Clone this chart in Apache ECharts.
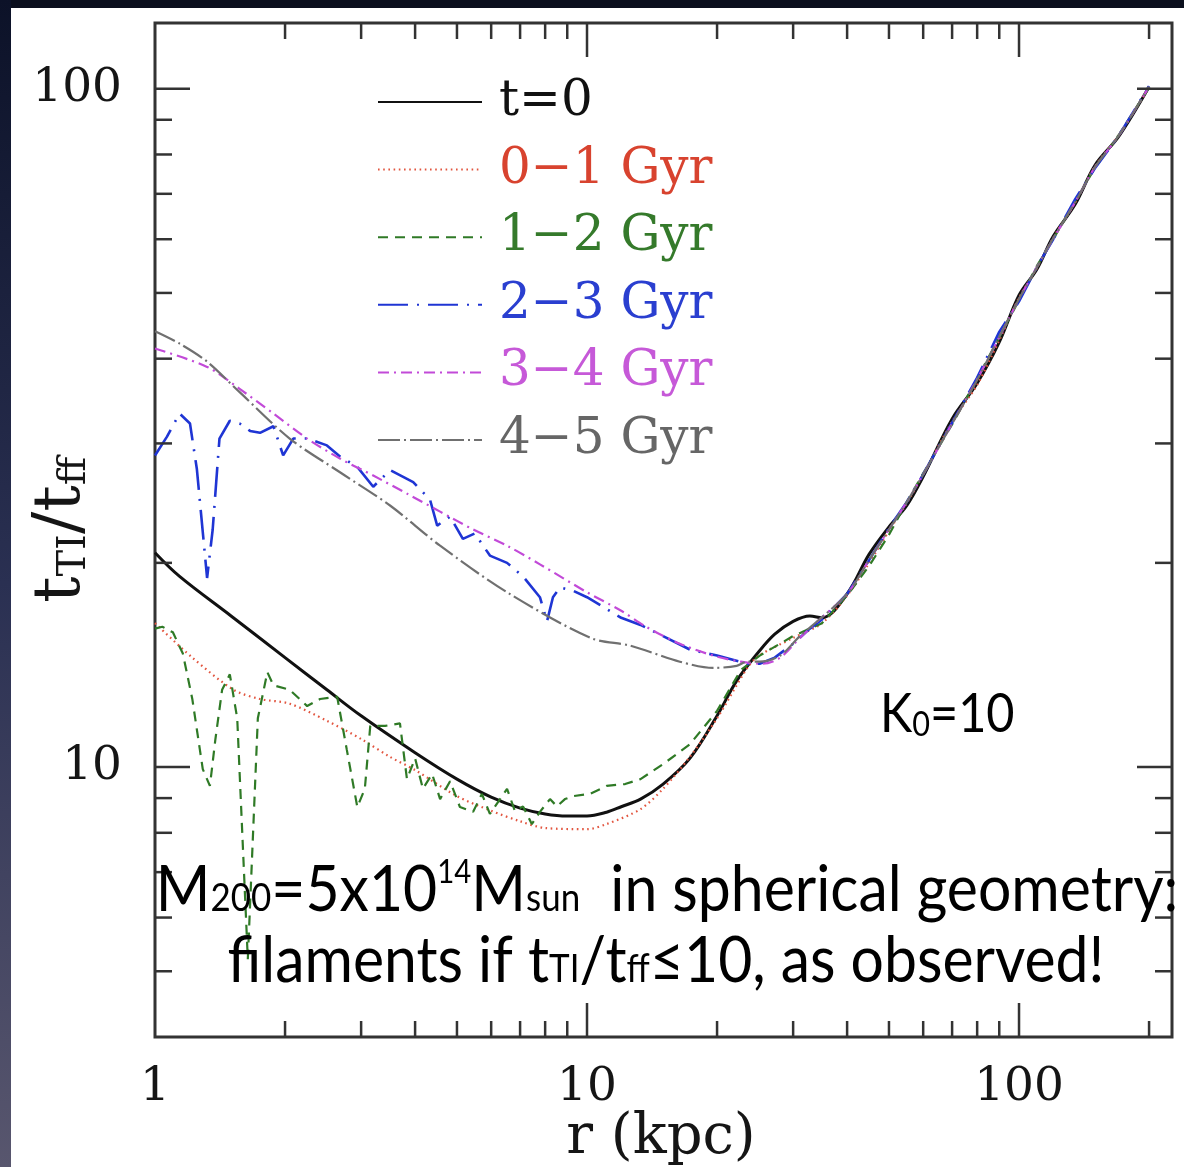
<!DOCTYPE html>
<html>
<head>
<meta charset="utf-8">
<script src="https://cdn.jsdelivr.net/npm/echarts@6/dist/echarts.min.js"></script>
<style>
  html, body { margin: 0; padding: 0; background: #fff; }
  #chart { width: 1184px; height: 1167px; }
</style>
</head>
<body>
<div id="chart"></div>
<script>
// Radius r (kpc) and t_TI / t_ff for each epoch.
const seriesNames = ['t=0', '0\u22121 Gyr', '1\u22122 Gyr', '2\u22123 Gyr', '3\u22124 Gyr', '4\u22125 Gyr'];

const profileT0 = [
  [1, 20.7], [1.14, 19.1], [1.5, 16.7], [2, 14.5], [2.5, 13.0], [3, 11.9], [4, 10.5], [5, 9.6],
  [6, 9.03], [7, 8.70], [8, 8.53], [9, 8.47], [10, 8.47], [11.1, 8.58], [12, 8.74], [13.3, 8.97],
  [15, 9.44], [17.3, 10.3], [20, 11.9], [22.2, 13.4], [25, 14.8], [27.2, 15.7], [30, 16.4],
  [32.8, 16.7], [35, 16.6], [40, 18.0], [45, 20.6], [50, 22.6], [55, 24.3], [60, 26.8], [70, 32.6],
  [80, 36.8], [90, 42.3], [100, 49.6], [110, 54.2], [120, 60.6], [135, 67.6], [150, 77.2],
  [170, 85.0], [200, 100.7]
];

const profile01 = [
  [1, 16.3], [1.22, 14.5], [1.52, 13.0], [1.75, 12.6], [2.05, 12.4], [2.5, 11.7], [3, 11.0],
  [3.5, 10.35], [4, 9.9], [5, 9.06], [6, 8.62], [7, 8.32], [8, 8.13], [10, 8.10], [11.1, 8.24],
  [13.3, 8.67], [15, 9.29], [17.3, 10.35], [20, 11.8], [23.5, 14.0], [25, 14.6], [30, 15.5],
  [35, 16.3], [40, 17.9], [45, 20.0], [50, 22.3], [55, 24.5], [60, 27.0], [70, 32.3], [80, 36.6],
  [90, 42.6], [100, 49.2], [110, 54.4], [120, 60.3], [135, 68.0], [150, 76.9], [170, 85.4], [200, 100.5]
];

const profile12 = [
  [1, 16.0], [1.04, 16.1], [1.10, 15.8], [1.16, 14.7], [1.22, 12.6], [1.29, 9.93], [1.34, 9.38],
  [1.38, 11.0], [1.43, 13.0], [1.49, 13.7], [1.55, 11.8], [1.64, 5.21], [1.73, 11.8], [1.82, 13.8],
  [1.88, 13.2], [2.05, 13.0], [2.25, 12.3], [2.41, 12.6], [2.64, 12.7], [2.78, 10.6], [2.94, 8.73],
  [3.06, 9.29], [3.15, 11.5], [3.41, 11.5], [3.69, 11.6], [3.83, 9.60], [4.0, 10.3], [4.17, 9.29],
  [4.38, 9.77], [4.57, 8.97], [4.82, 9.53], [5.08, 8.73], [5.45, 8.59], [5.71, 9.13], [5.96, 8.53],
  [6.29, 8.97], [6.53, 9.29], [6.81, 8.61], [7.11, 8.75], [7.45, 8.24], [7.78, 8.59], [8.21, 8.97],
  [8.52, 8.75], [8.89, 8.97], [9.28, 9.06], [10.16, 9.13], [11.1, 9.38], [12.25, 9.44], [13.3, 9.60],
  [15, 10.1], [17.3, 10.8], [20, 12.1], [22.7, 13.9], [25.1, 14.6], [30, 15.6], [35, 16.3],
  [40, 17.9], [45, 19.8], [50, 22.0], [55, 24.6], [60, 27.1], [70, 32.0], [80, 37.4], [90, 43.0],
  [100, 48.8], [110, 54.8], [120, 60.0], [135, 68.3], [150, 76.5], [170, 85.4], [200, 100.4]
];

const profile23 = [
  [1, 28.8], [1.066, 30.7], [1.14, 33.2], [1.205, 32.1], [1.25, 27.5], [1.32, 19.0], [1.36, 22.4],
  [1.41, 30.5], [1.49, 32.4], [1.57, 32.1], [1.66, 31.3], [1.75, 31.1], [1.88, 31.8], [1.98, 28.8],
  [2.09, 30.5], [2.25, 30.5], [2.5, 29.8], [2.68, 28.7], [2.94, 27.7], [3.2, 25.9], [3.5, 27.4],
  [3.96, 26.3], [4.33, 24.8], [4.5, 22.7], [4.82, 23.4], [5.16, 21.7], [5.5, 22.1], [5.96, 20.5],
  [6.53, 20.0], [7.11, 19.1], [7.78, 17.8], [8.08, 16.4], [8.34, 17.8], [8.66, 18.4], [9.28, 18.2],
  [10, 17.8], [11.1, 17.1], [12, 16.6], [13.3, 16.2], [15, 15.6], [17.3, 14.9], [20, 14.6],
  [23.5, 14.2], [25.1, 14.2], [27.2, 14.5], [30, 15.2], [32.8, 16.0], [35, 16.5], [40, 18.0],
  [45, 20.2], [50, 22.5], [55, 24.6], [60, 27.0], [70, 32.2], [80, 37.5], [90, 43.8], [100, 48.6],
  [110, 54.6], [120, 60.0], [135, 68.8], [150, 76.4], [170, 85.2], [200, 100.9]
];

const profile34 = [
  [1, 41.4], [1.32, 38.9], [1.57, 36.1], [1.88, 33.2], [2.25, 30.5], [2.68, 28.5], [3.2, 26.9],
  [3.83, 25.3], [4.57, 23.8], [5.45, 22.4], [6.53, 21.2], [7.78, 19.9], [10, 18.1], [12, 17.0],
  [13.7, 16.1], [16.4, 15.2], [19.6, 14.6], [22.7, 14.3], [25.5, 14.2], [28, 14.5], [31.1, 15.5],
  [34.5, 16.5], [40, 18.0], [45, 20.2], [50, 22.4], [55, 24.6], [60, 27.0], [70, 32.1], [80, 37.3],
  [90, 43.0], [100, 49.0], [110, 54.6], [120, 60.1], [135, 68.1], [150, 76.7], [170, 85.2], [200, 100.7]
];

const profile45 = [
  [1, 43.9], [1.14, 42.1], [1.32, 39.6], [1.57, 35.7], [2.05, 30.5], [2.68, 27.2], [3.5, 24.3],
  [4.57, 21.2], [6.53, 18.1], [10.2, 15.5], [12.6, 15.1], [16.4, 14.3], [19.6, 14.0], [22.2, 14.1],
  [23.5, 14.3], [25.1, 14.3], [28, 14.6], [31.1, 15.6], [34.5, 16.5], [40, 18.0], [45, 20.2],
  [50, 22.4], [55, 24.6], [60, 27.0], [70, 32.1], [80, 37.2], [90, 43.1], [100, 49.0], [110, 54.5],
  [120, 60.2], [135, 68.1], [150, 76.7], [170, 85.2], [200, 100.7]
];

// Axis tick values (major ticks are labelled)
const xMajorTicks = [10, 100];
const xMinorTicks = [2, 3, 4, 5, 6, 7, 8, 9, 20, 30, 40, 50, 60, 70, 80, 90, 200];
const yMajorTicks = [10, 100];
const yMinorTicks = [5, 6, 7, 8, 9, 20, 30, 40, 50, 60, 70, 80, 90];

const lineColors = ['#111111', '#e2553f', '#2f7a26', '#1f35d4', '#c24ad8', '#707070'];
const textColors = ['#111111', '#d8432f', '#357a2b', '#2a3fd0', '#c659d8', '#666666'];
const dashTypes = ['solid', [1.6, 3.6], [10, 7], [30, 9, 2, 9], [11, 5, 2, 5], [22, 4, 2, 4]];
const lineWidths = [3, 2.2, 2.2, 2.6, 2.2, 2.2];
const smoothing = [0.35, 0.3, 0, 0, 0.3, 0.3];
const profiles = [profileT0, profile01, profile12, profile23, profile34, profile45];

const chart = echarts.init(document.getElementById('chart'), null, { renderer: 'canvas' });

const decadeLabel = function (v) {
  const l = Math.log10(v);
  return Math.abs(l - Math.round(l)) < 1e-6 ? String(Math.round(v)) : '';
};

const tickStyle = { stroke: '#333', lineWidth: 2.5 };

function xTickRenderer(params, api) {
  const p = api.coord([api.value(0), api.value(1)]);
  const cs = params.coordSys;
  const len = api.value(2) ? 34 : 16;
  const bottom = cs.y + cs.height;
  return {
    type: 'group',
    children: [
      { type: 'line', shape: { x1: p[0], y1: bottom, x2: p[0], y2: bottom - len }, style: tickStyle },
      { type: 'line', shape: { x1: p[0], y1: cs.y, x2: p[0], y2: cs.y + len }, style: tickStyle }
    ]
  };
}

function yTickRenderer(params, api) {
  const p = api.coord([api.value(0), api.value(1)]);
  const cs = params.coordSys;
  const len = api.value(2) ? 35 : 17;
  const right = cs.x + cs.width;
  return {
    type: 'group',
    children: [
      { type: 'line', shape: { x1: cs.x, y1: p[1], x2: cs.x + len, y2: p[1] }, style: tickStyle },
      { type: 'line', shape: { x1: right, y1: p[1], x2: right - len, y2: p[1] }, style: tickStyle }
    ]
  };
}

const lineSeries = seriesNames.map(function (name, i) {
  return {
    name: name,
    type: 'line',
    data: profiles[i],
    symbol: 'none',
    smooth: smoothing[i],
    z: 3 + i,
    lineStyle: { color: lineColors[i], width: lineWidths[i], type: dashTypes[i] },
    itemStyle: { color: lineColors[i] }
  };
});

const xTickData = xMajorTicks.map(v => [v, 10, 1]).concat(xMinorTicks.map(v => [v, 10, 0]));
const yTickData = yMajorTicks.map(v => [2, v, 1]).concat(yMinorTicks.map(v => [2, v, 0]));

const sans = 'Lato';
const serif = 'DejaVu Serif';

const option = {
  animation: false,
  backgroundColor: '#ffffff',
  grid: {
    left: 155, right: 12, top: 23, bottom: 130,
    show: true, borderColor: '#333', borderWidth: 3, backgroundColor: 'transparent'
  },
  xAxis: {
    type: 'log', logBase: 10, min: 1, max: 226,
    axisLine: { show: false }, axisTick: { show: false }, splitLine: { show: false },
    axisLabel: {
      interval: 0, formatter: decadeLabel, margin: 27,
      fontFamily: serif, fontSize: 47, color: '#151515'
    }
  },
  yAxis: {
    type: 'log', logBase: 10, min: 4, max: 125,
    axisLine: { show: false }, axisTick: { show: false }, splitLine: { show: false },
    axisLabel: {
      interval: 0, formatter: decadeLabel, margin: 33,
      fontFamily: serif, fontSize: 47, color: '#151515'
    }
  },
  legend: {
    orient: 'vertical', left: 372, top: 72,
    itemWidth: 104, itemHeight: 50, itemGap: 17.6,
    selectedMode: false,
    itemStyle: { opacity: 0 },
    textStyle: { fontFamily: serif, fontSize: 50, padding: [0, 0, 0, 12] },
    data: seriesNames.map((n, i) => ({ name: n, textStyle: { color: textColors[i] } }))
  },
  series: lineSeries.concat([
    { type: 'custom', silent: true, data: xTickData, renderItem: xTickRenderer, z: 10 },
    { type: 'custom', silent: true, data: yTickData, renderItem: yTickRenderer, z: 10 }
  ]),
  graphic: [
    {
      type: 'rect', z: 50, silent: true,
      shape: { x: 0, y: 0, width: 1184, height: 8 },
      style: { fill: '#0b0f1e' }
    },
    {
      type: 'rect', z: 50, silent: true,
      shape: { x: 0, y: 0, width: 11, height: 1167 },
      style: {
        fill: new echarts.graphic.LinearGradient(0, 0, 0, 1, [
          { offset: 0, color: '#0c1228' },
          { offset: 0.5, color: '#2a3052' },
          { offset: 1, color: '#58566e' }
        ])
      }
    },
    {
      type: 'text', z: 60, x: 62, y: 530, rotation: Math.PI / 2,
      style: {
        text: '{t|t}{s|TI}{t|/t}{s|ff}',
        align: 'center', verticalAlign: 'middle',
        rich: {
          t: { fontFamily: serif, fontSize: 66, verticalAlign: 'bottom', fill: '#151515' },
          s: { fontFamily: serif, fontSize: 40, verticalAlign: 'bottom', fill: '#151515' }
        }
      }
    },
    {
      type: 'text', z: 60, x: 661, y: 1138,
      style: {
        text: 'r (kpc)', align: 'center', verticalAlign: 'middle',
        fontFamily: serif, fontSize: 56, fill: '#151515'
      }
    },
    {
      type: 'text', z: 60, x: 880, y: 742, scaleX: 0.9,
      style: {
        text: '{m|K}{s|0}{m|=10}', align: 'left', verticalAlign: 'bottom',
        rich: {
          m: { fontFamily: sans, fontSize: 54, verticalAlign: 'bottom', fill: '#000' },
          s: { fontFamily: sans, fontSize: 34, verticalAlign: 'bottom', fill: '#000' }
        }
      }
    },
    {
      type: 'text', z: 60, x: 667, y: 922, scaleX: 0.92,
      style: {
        text: '{m|M}{s|200}{m|=5x10}{p|14}{m|M}{s|sun}{m|  in spherical geometry:}',
        align: 'center', verticalAlign: 'bottom',
        rich: {
          m: { fontFamily: sans, fontSize: 64, verticalAlign: 'bottom', fill: '#000' },
          s: { fontFamily: sans, fontSize: 38, verticalAlign: 'bottom', padding: [0, 0, 4, 0], fill: '#000' },
          p: { fontFamily: sans, fontSize: 32, verticalAlign: 'bottom', padding: [0, 0, 33, 0], fill: '#000' }
        }
      }
    },
    {
      type: 'text', z: 60, x: 666, y: 993, scaleX: 0.92,
      style: {
        text: '{m|filaments if t}{s|TI}{m|/t}{s|ff}{m|\u226410, as observed!}',
        align: 'center', verticalAlign: 'bottom',
        rich: {
          m: { fontFamily: sans, fontSize: 64, verticalAlign: 'bottom', fill: '#000' },
          s: { fontFamily: sans, fontSize: 38, verticalAlign: 'bottom', padding: [0, 0, 4, 0], fill: '#000' }
        }
      }
    }
  ]
};

chart.setOption(option);
</script>
</body>
</html>
